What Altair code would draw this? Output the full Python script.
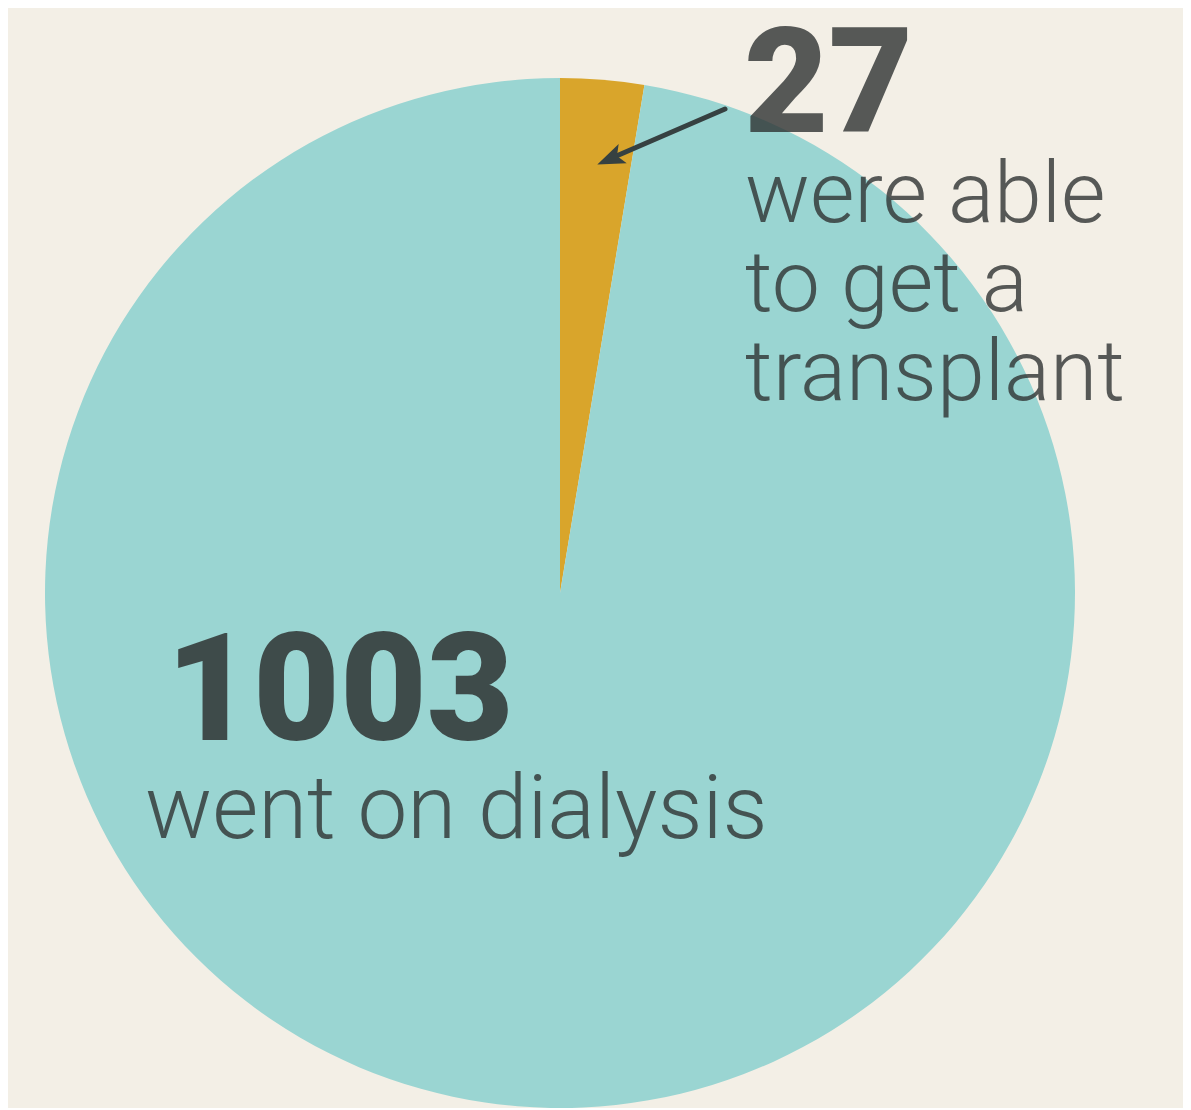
import altair as alt
import pandas as pd

# ---- data ----
categories = ["were able to get a transplant", "went on dialysis"]
counts = [27, 1003]
slice_order = [0, 1]
colors = ["#D9A52B", "#9AD5D2"]
caption_small = ["were able", "to get a", "transplant"]
caption_large = ["went on dialysis"]

df = pd.DataFrame({"group": categories, "count": counts, "ord": slice_order})
one = pd.DataFrame({"k": [0]})

W, H = 1175, 1094
CX, CY, R = 552, 585, 515
TEXT = "#2f3333"
BG = "#F3EFE6"

pie = alt.Chart(df).mark_arc(outerRadius=R).encode(
    theta=alt.Theta("count:Q", stack=True),
    color=alt.Color("group:N", scale=alt.Scale(domain=categories, range=colors), legend=None),
    order=alt.Order("ord:Q"),
    x=alt.value(CX),
    y=alt.value(CY),
)

arrow_line = alt.Chart(one).mark_rule(color="#364141", strokeWidth=5, strokeCap="round").encode(
    x=alt.value(717), y=alt.value(101), x2=alt.value(606), y2=alt.value(149)
)
arrow_head = alt.Chart(one).mark_point(
    shape="M0,-1L0.75,1L0,0.55L-0.75,1Z", filled=True, size=760, angle=247,
    color="#364141", opacity=1
).encode(x=alt.value(602), y=alt.value(151))

num_small = alt.Chart(one).mark_text(
    align="left", baseline="alphabetic", font="Roboto", fontSize=146, fontWeight=900,
    color=TEXT, opacity=0.8
).encode(x=alt.value(736), y=alt.value(124), text=alt.value(str(counts[0])))

cap_small = alt.Chart(one).mark_text(
    align="left", baseline="alphabetic", font="Roboto", fontSize=86, fontWeight=300,
    color=TEXT, opacity=0.8, lineHeight=89
).encode(x=alt.value(737), y=alt.value(214), text=alt.value(caption_small))

num_large = alt.Chart(one).mark_text(
    align="left", baseline="alphabetic", font="Roboto", fontSize=150, fontWeight=900,
    color=TEXT, opacity=0.85
).encode(x=alt.value(158), y=alt.value(732), text=alt.value(str(counts[1])))

cap_large = alt.Chart(one).mark_text(
    align="left", baseline="alphabetic", font="Roboto", fontSize=89, fontWeight=300,
    color=TEXT, opacity=0.8
).encode(x=alt.value(137), y=alt.value(830), text=alt.value(caption_large[0]))

chart = alt.layer(
    pie, arrow_line, arrow_head, num_small, cap_small, num_large, cap_large
).properties(
    width=W, height=H, background=BG, padding=0
).configure_view(strokeWidth=0)

chart.save("out.html", embed_options={"renderer": "svg", "actions": False})
